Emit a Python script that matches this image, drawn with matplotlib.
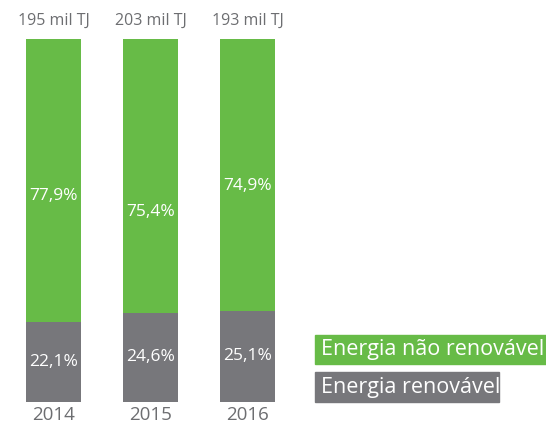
import matplotlib.pyplot as plt
from matplotlib.patches import Rectangle
import numpy as np

plt.rcParams["font.family"] = ["Open Sans", "DejaVu Sans"]

years = ["2014", "2015", "2016"]
totals = ["195 mil TJ", "203 mil TJ", "193 mil TJ"]
renovavel = [22.1, 24.6, 25.1]
nao_renovavel = [77.9, 75.4, 74.9]
# height (in %) where the non-renewable share label sits
nao_label_y = [56.7, 52.3, 59.5]

green = "#67bb47"
gray = "#77777b"
text_gray = "#6d6e71"

W, H = 546, 425
fig = plt.figure(figsize=(W / 100, H / 100), dpi=100)
ax = fig.add_axes([5 / W, 23 / H, 485 / W, 363 / H])

x = np.arange(len(years))
width = 0.567
ax.bar(x, renovavel, width, color=gray)
ax.bar(x, nao_renovavel, width, bottom=renovavel, color=green)

for i in range(len(years)):
    ax.text(x[i], renovavel[i] / 2, f"{renovavel[i]:.1f}%".replace(".", ","),
            ha="center", va="center", color="white", fontsize=12.5)
    ax.text(x[i], nao_label_y[i], f"{nao_renovavel[i]:.1f}%".replace(".", ","),
            ha="center", va="center", color="white", fontsize=12.5)
    ax.text(x[i], 100 + 5.0, totals[i], ha="center", va="center",
            color=text_gray, fontsize=11.5)
    ax.text(x[i], -3.5, years[i], ha="center", va="center",
            color=text_gray, fontsize=13.5)

ax.set_xlim(-0.5, 4.5)
ax.set_ylim(0, 100)
ax.axis("off")

# legend boxes
fig.patches.append(Rectangle((315 / W, (H - 364) / H), 231 / W, 29 / H,
                             transform=fig.transFigure, color=green))
fig.patches.append(Rectangle((315 / W, (H - 402) / H), 184 / W, 30 / H,
                             transform=fig.transFigure, color=gray))
fig.text(321 / W, (H - 350) / H, "Energia não renovável", color="white",
         fontsize=15.5, va="center", ha="left")
fig.text(321 / W, (H - 388) / H, "Energia renovável", color="white",
         fontsize=15.5, va="center", ha="left")

fig.savefig("out.png", dpi=100)
